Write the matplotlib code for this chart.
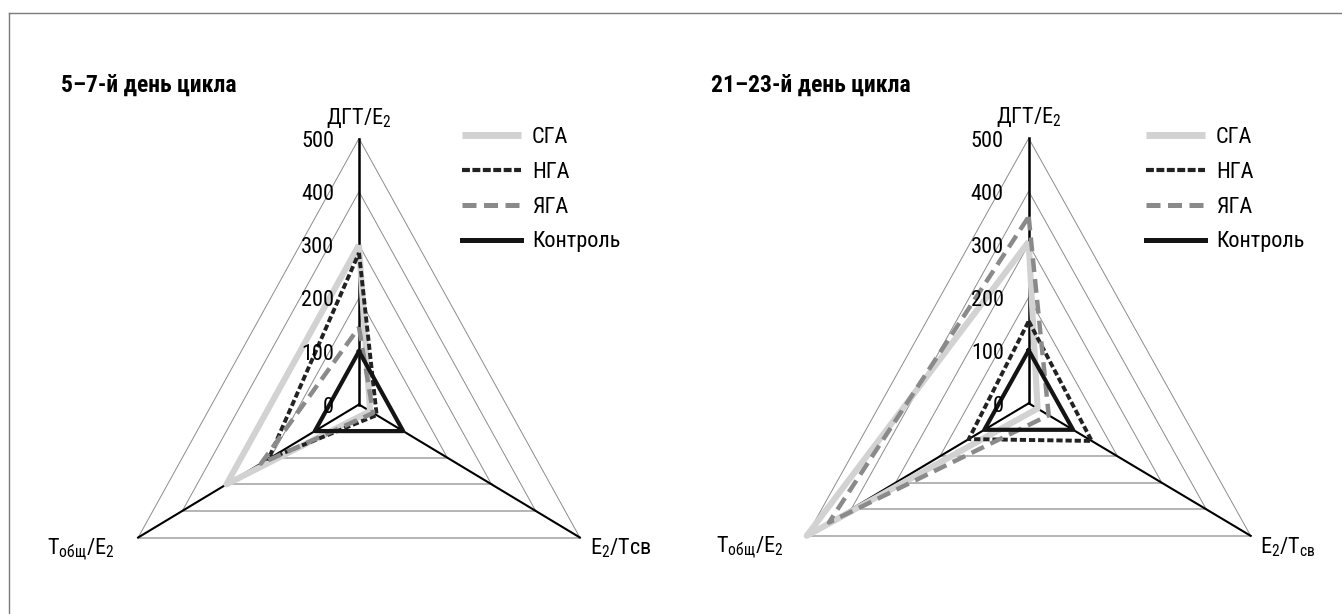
import numpy as np
import matplotlib
matplotlib.use("Agg")
import matplotlib.pyplot as plt
from matplotlib import font_manager
from matplotlib.lines import Line2D

# ---- data ----
categories_left = ["ДГТ/E$_\\mathregular{2}$", "E$_\\mathregular{2}$/Тсв",
                   "Т$_\\mathregular{общ}$/E$_\\mathregular{2}$"]
categories_right = ["ДГТ/E$_\\mathregular{2}$", "E$_\\mathregular{2}$/Т$_\\mathregular{св}$",
                    "Т$_\\mathregular{общ}$/E$_\\mathregular{2}$"]
levels = [0, 100, 200, 300, 400, 500]
series_names = ["СГА", "НГА", "ЯГА", "Контроль"]

# values in order: ДГТ/E2, E2/Тсв, Тобщ/E2
sga_5_7 = [300, 25, 300]
nga_5_7 = [285, 40, 205]
yga_5_7 = [145, 32, 222]
ctrl_5_7 = [100, 100, 100]

sga_21_23 = [305, 20, 500]
nga_21_23 = [155, 142, 135]
yga_21_23 = [352, 45, 450]
ctrl_21_23 = [100, 100, 100]

titles = ["5–7-й день цикла", "21–23-й день цикла"]

# ---- fonts ----
names = {f.name for f in font_manager.fontManager.ttflist}
fam = "DejaVu Sans"
for cand in ["Liberation Sans Narrow", "Roboto Condensed", "Open Sans Condensed"]:
    if cand in names:
        fam = cand
        break
plt.rcParams["font.family"] = [fam, "DejaVu Sans"]
plt.rcParams["mathtext.default"] = "regular"

FS = 16

styles = {
    "СГА": dict(color="#d2d2d2", lw=4.4, solid_capstyle="butt"),
    "НГА": dict(color="#222222", lw=2.8, linestyle=(0, (1.6, 0.75)), dash_capstyle="butt"),
    "ЯГА": dict(color="#8a8a8a", lw=3.2, linestyle=(0, (3.1, 1.6)), dash_capstyle="butt"),
    "Контроль": dict(color="#141414", lw=3.0),
}
# legend keys are drawn a bit heavier than the lines in the plot
legend_styles = {
    "СГА": dict(color="#d2d2d2", lw=5.0, solid_capstyle="butt"),
    "НГА": dict(color="#222222", lw=3.0, linestyle=(0, (1.9, 0.6)), dash_capstyle="butt"),
    "ЯГА": dict(color="#8a8a8a", lw=3.6, linestyle=(0, (2.8, 1.5)), dash_capstyle="butt"),
    "Контроль": dict(color="#141414", lw=3.6),
}

W, H = 1342, 614
fig = plt.figure(figsize=(W / 100, H / 100), dpi=100)


def px_axes(cx, cy, rx, ry):
    # polar axes placed by pixel centre and radii (image coords, y down)
    left = (cx - rx) / W
    bottom = (H - (cy + ry)) / H
    ax = fig.add_axes([left, bottom, 2 * rx / W, 2 * ry / H], projection="polar")
    ax.set_aspect("auto")
    ax.set_theta_zero_location("N")
    ax.set_theta_direction(-1)
    ax.set_ylim(0, levels[-1])
    ax.axis("off")
    return ax


def draw_radar(ax, data, cat_labels, legend_xy):
    theta = np.linspace(0, 2 * np.pi, len(cat_labels), endpoint=False)
    top, br, bl = theta

    # grid triangles
    for lv in levels[1:]:
        ax.plot([top, br], [lv, lv], color="#8c8c8c", lw=0.7, clip_on=False, zorder=1)
        ax.plot([top, bl], [lv, lv], color="#8c8c8c", lw=0.7, clip_on=False, zorder=1)
        ax.plot([br, bl], [lv, lv], color="#b4b4b4", lw=1.4, clip_on=False, zorder=1)

    # spokes
    for i, t in enumerate(theta):
        ax.plot([t, t], [0, levels[-1]], color="black", lw=1.8 if i == 0 else 1.5,
                clip_on=False, zorder=2)

    # series
    for name, vals in zip(series_names, data):
        v = list(vals) + [vals[0]]
        t = list(theta) + [theta[0]]
        ax.plot(t, v, clip_on=False, zorder=3, **styles[name])

    # value labels on top spoke
    for lv in levels:
        ax.annotate(str(lv), xy=(top, lv), xytext=(-18, -2), textcoords="offset points",
                    ha="right", va="center", fontsize=FS, zorder=4)

    # category labels
    ax.annotate(cat_labels[0], xy=(top, levels[-1]), xytext=(0, 15),
                textcoords="offset points", ha="center", va="center", fontsize=FS)
    ax.annotate(cat_labels[1], xy=(br, levels[-1]), xytext=(7, -8),
                textcoords="offset points", ha="left", va="center", fontsize=FS)
    ax.annotate(cat_labels[2], xy=(bl, levels[-1]), xytext=(-17, -8),
                textcoords="offset points", ha="right", va="center", fontsize=FS)

    handles = [Line2D([], [], **legend_styles[n]) for n in series_names]
    ax.legend(handles, series_names, loc="upper left",
              bbox_to_anchor=(legend_xy[0] / W, 1 - legend_xy[1] / H),
              bbox_transform=fig.transFigure, frameon=False, fontsize=FS,
              handlelength=2.65, handletextpad=0.5, labelspacing=0.62, borderpad=0,
              borderaxespad=0)


ax1 = px_axes(359, 404.5, 255, 266)
draw_radar(ax1, [sga_5_7, nga_5_7, yga_5_7, ctrl_5_7], categories_left, (462, 127))

ax2 = px_axes(1028.7, 403.3, 256.3, 265)
draw_radar(ax2, [sga_21_23, nga_21_23, yga_21_23, ctrl_21_23], categories_right, (1146, 127))

fig.text(61 / W, 1 - 85 / H, titles[0], fontsize=17, fontweight="bold",
         ha="left", va="center")
fig.text(711 / W, 1 - 85 / H, titles[1], fontsize=17, fontweight="bold",
         ha="left", va="center")

# frame (top and left edges visible in the picture)
fig.add_artist(Line2D([8.7 / W, 8.7 / W], [0, 1 - 12.7 / H], transform=fig.transFigure,
                      color="#7a7a7a", lw=1.0))
fig.add_artist(Line2D([8.7 / W, 1], [1 - 12.7 / H, 1 - 12.7 / H], transform=fig.transFigure,
                      color="#7a7a7a", lw=1.0))

fig.savefig("out.png", dpi=100)
